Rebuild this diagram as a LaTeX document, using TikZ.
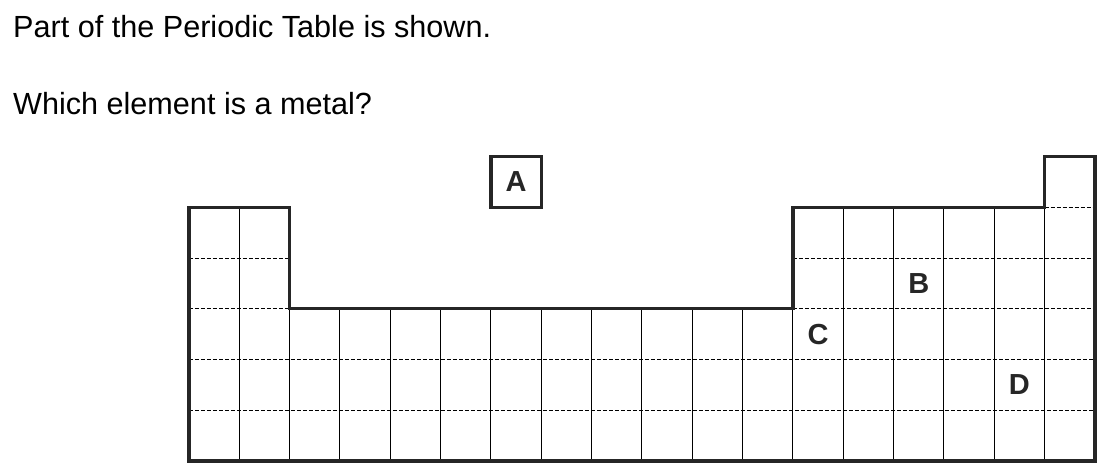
\documentclass[tikz,border=0pt]{standalone}
\usepackage{fontspec}
\setmainfont{Liberation Sans}
\usetikzlibrary{positioning}
\tikzset{
    rejilla/.style={line width=1pt},
    discontinua/.style={line width=1pt, dash pattern=on 4pt off 2pt},
    borde/.style={line width=3.5pt, draw=black!85, line join=miter},
    letra/.style={font=\fontsize{29}{34}\selectfont\bfseries, text=black!85, inner sep=0pt},
    pregunta/.style={font=\fontsize{30.6}{36}\selectfont, anchor=base west, inner sep=0pt},
}
\begin{document}
\begin{tikzpicture}[x=50.33pt, y=50.74pt]
\useasboundingbox (-3.755,-0.256) rectangle (18.359,9.085);
% Question text
\node[pregunta] (linea1) at (-3.497,8.35) {Part of the Periodic Table is shown.};
\node[pregunta] (linea2) at (-3.497,6.83) {Which element is a metal?};
% Vertical lines (solid)
\foreach \x in {1,13,14,15,16,17} \draw[rejilla] (\x,0) -- (\x,5);
\foreach \x in {2,...,12} \draw[rejilla] (\x,0) -- (\x,3);
% Horizontal lines (dashed)
\foreach \y in {1,2} \draw[discontinua] (0,\y) -- (18,\y);
\foreach \y in {3,4} {
    \draw[discontinua] (0,\y) -- (2,\y);
    \draw[discontinua] (12,\y) -- (18,\y);
}
\draw[discontinua] (17,5) -- (18,5);
% Outline of the table
\draw[borde] (0,0) -- (0,5) -- (2,5) -- (2,3) -- (12,3) -- (12,5) -- (17,5) -- (17,6) -- (18,6) -- (18,0) -- cycle;
% Element A, outside the table
\node[letra, draw=black!85, line width=3.5pt, minimum width=50.33pt, minimum height=50.74pt] (A) at (6.5,5.5) {A};
% Elements B, C, D
\node[letra] (B) at (14.5,3.5) {B};
\node[letra] (C) at (12.5,2.5) {C};
\node[letra] (D) at (16.5,1.5) {D};
\end{tikzpicture}
\end{document}
